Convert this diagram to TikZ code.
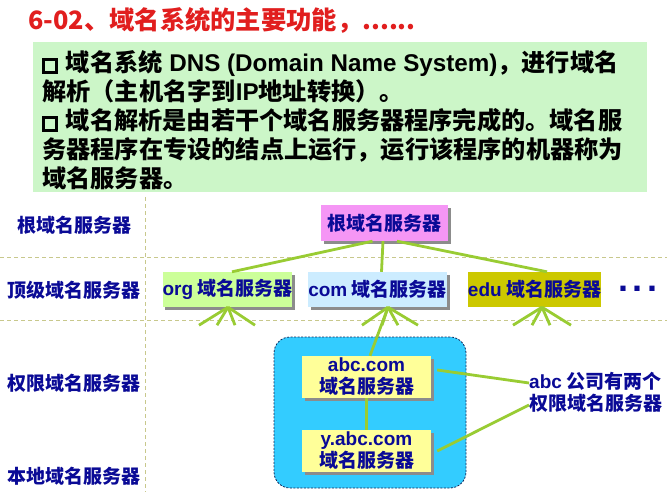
\documentclass[tikz,border=0pt]{standalone}
\usepackage{fontspec}
\setmainfont{Noto Sans CJK SC}
\newfontfamily\lat{Liberation Sans}
\usetikzlibrary{shadows,calc}
\definecolor{ttlred}{RGB}{225,30,30}
\definecolor{dkblue}{RGB}{10,10,150}
\definecolor{boxgreen}{RGB}{204,246,200}
\definecolor{lgreen}{RGB}{153,204,51}
\definecolor{sepcol}{RGB}{200,200,140}
\definecolor{rootpink}{RGB}{245,150,245}
\definecolor{orggreen}{RGB}{204,255,153}
\definecolor{comblue}{RGB}{204,236,255}
\definecolor{eduolive}{RGB}{204,200,0}
\definecolor{grpblue}{RGB}{51,204,255}
\definecolor{srvyellow}{RGB}{255,255,153}
\definecolor{navy}{RGB}{20,40,90}
\newcommand\chkbox{\raisebox{0pt}{\setlength\fboxrule{2.8pt}\setlength\fboxsep{0pt}\fbox{\rule{0pt}{10.5pt}\hspace{10pt}}}\hspace{8pt}}
\begin{document}
\begin{tikzpicture}[x=1pt,y=-1pt,
  lvl/.style={font=\fontsize{19}{22}\selectfont\bfseries, text=dkblue, inner sep=0pt},
  srv/.style={font=\fontsize{19}{22}\selectfont\bfseries, text=dkblue, inner sep=0pt, minimum height=35pt,
              drop shadow={shadow xshift=2.5pt, shadow yshift=-2.5pt, fill=black!45, opacity=1}},
  link/.style={draw=lgreen, line width=2.8pt},
  sep/.style={draw=sepcol, line width=1pt, dashed, dash pattern=on 4pt off 3pt}]
\useasboundingbox (0,0) rectangle (667,500);
\fill[white] (0,0) rectangle (667,500);

% title
\node[anchor=west, text=ttlred, font=\fontsize{25.3}{28}\selectfont\bfseries, inner sep=0pt] (title) at (28,20) {6-02、域名系统的主要功能，......};

% green text box
\node[fill=boxgreen, minimum width=614pt, minimum height=150pt, inner sep=0pt] (gbox) at (340,117) {};
\node[anchor=north west, align=left, inner sep=0pt, font=\fontsize{24.2}{29}\selectfont\bfseries] (txt) at (42,50)
  {\chkbox 域名系统{\lat\ DNS (Domain Name System)}，进行域名\\
   解析（主机名字到{\lat IP}地址转换）。\\
   \chkbox 域名解析是由若干个域名服务器程序完成的。域名服\\
   务器程序在专设的结点上运行，运行该程序的机器称为\\
   域名服务器。};

% separators
\draw[sep] (0,257) -- (667,257);
\draw[sep] (0,320) -- (667,320);
\draw[sep] (145,197) -- (145,492);

% level labels
\node[lvl] (l1) at (74,225) {根域名服务器};
\node[lvl] (l2) at (74,290) {顶级域名服务器};
\node[lvl] (l3) at (74,383) {权限域名服务器};
\node[lvl] (l4) at (74,476) {本地域名服务器};

% group box
\node[draw=navy, dashed, dash pattern=on 2pt off 1.5pt, line width=0.8pt, fill=grpblue, rounded corners=16pt,
      minimum width=192pt, minimum height=151pt, inner sep=0pt] (grp) at (370,412.5) {};

% servers
\node[srv, fill=rootpink, minimum width=127pt, minimum height=36pt] (root) at (384.5,223) {根域名服务器};
\node[srv, fill=orggreen, minimum width=129pt] (org) at (227.5,289.5) {{\lat org} 域名服务器};
\node[srv, fill=comblue, minimum width=139pt] (com) at (377.5,289.5) {{\lat com} 域名服务器};
\node[lvl, fill=eduolive, minimum width=127pt, minimum height=35pt] (edu) at (534.5,289.5) {{\lat edu} 域名服务器};
\node[text=dkblue, inner sep=0pt, font=\lat\bfseries\fontsize{36}{36}\selectfont] (dots) at (638,289) {.\kern5pt.\kern5pt.};

\node[srv, fill=srvyellow, minimum width=129pt, minimum height=42pt, align=center] (abc) at (366.5,377) {{\lat abc.com}\\域名服务器};
\node[srv, fill=srvyellow, minimum width=129pt, minimum height=42pt, align=center] (yabc) at (366.5,451) {{\lat y.abc.com}\\域名服务器};

\node[lvl, align=left, anchor=west] (note) at (529,392) {{\lat abc} 公司有两个\\权限域名服务器};

% connectors
\draw[link] ([xshift=-12pt]root.south) -- ([xshift=4.5pt]org.north);
\draw[link] ([xshift=-1.5pt]root.south) -- ([xshift=4pt]com.north);
\draw[link] ([xshift=12.5pt]root.south) -- ([xshift=12.5pt]edu.north);

\coordinate (oa) at ([xshift=0.5pt]org.south);
\coordinate (ca) at ([xshift=10.5pt]com.south);
\coordinate (ea) at ([xshift=7.5pt]edu.south);
\foreach \d [count=\i] in {-29,-11,7,27} \coordinate (of\i) at ($(oa)+(\d,18)$);
\foreach \d [count=\i] in {-26,-6,10,30} \coordinate (cf\i) at ($(ca)+(\d,18)$);
\foreach \d [count=\i] in {-29,-10,8,29} \coordinate (ef\i) at ($(ea)+(\d,18)$);
\foreach \i in {1,...,4} {
  \draw[link] (oa) -- (of\i);
  \draw[link] (ca) -- (cf\i);
  \draw[link] (ea) -- (ef\i);
}
\draw[link] (ca) -- ([xshift=3.5pt]abc.north);
\draw[link] (abc.south) -- (yabc.north);
\draw[link] ([xshift=6pt,yshift=7pt]abc.east) -- ([yshift=9pt]note.west);
\draw[link] ([xshift=6pt]yabc.east) -- ([yshift=-13pt]note.west);
\end{tikzpicture}
\end{document}
